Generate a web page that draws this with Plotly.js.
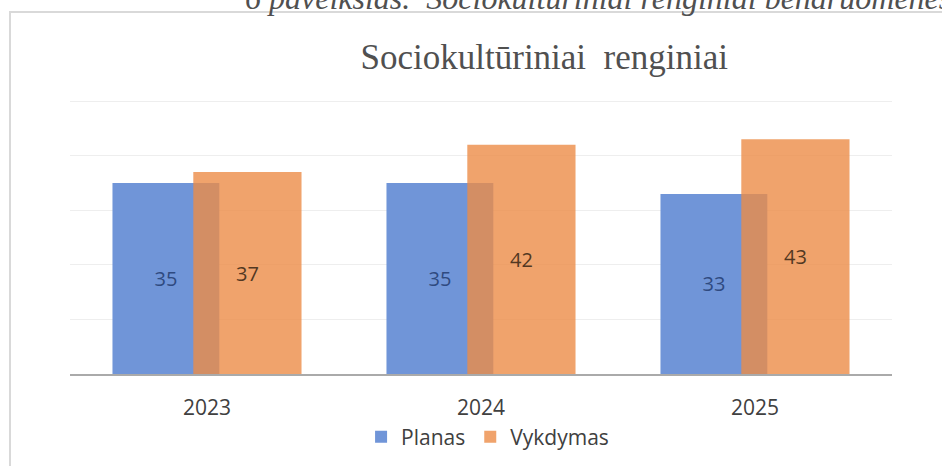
<!DOCTYPE html>
<html>
<head>
<meta charset="utf-8">
<script src="https://cdn.plot.ly/plotly-3.0.1.min.js"></script>
<style>html,body{margin:0;padding:0;background:#fff;}#chart{width:942px;height:466px;}</style>
</head>
<body>
<div id="chart"></div>
<script>
const years = ['2023', '2024', '2025'];
const planas = [35, 35, 33];
const vykdymas = [37, 42, 43];
const seriesNames = ['Planas', 'Vykdymas'];
const chartTitle = 'Sociokultūriniai\u00a0 renginiai';
const caption = '6 paveikslas.\u00a0 Sociokultūriniai renginiai bendruomenės';

const labelFont = 'Open Sans, Liberation Sans, sans-serif';

const traces = [
  {
    type: 'bar', name: seriesNames[0], x: years, y: planas,
    offset: -0.345, width: 0.39,
    marker: {color: '#7095d8'},
    text: planas.map(String), textposition: 'inside', insidetextanchor: 'middle',
    textangle: 0, constraintext: 'none',
    textfont: {family: labelFont, size: 20, color: '#2f4a80'},
    hoverinfo: 'none'
  },
  {
    type: 'bar', name: seriesNames[1], x: years, y: vykdymas,
    offset: -0.05, width: 0.395,
    marker: {color: 'rgba(236,140,71,0.8)'},
    text: vykdymas.map(String), textposition: 'inside', insidetextanchor: 'middle',
    textangle: 0, constraintext: 'none',
    textfont: {family: labelFont, size: 20, color: '#523822'},
    hoverinfo: 'none'
  }
];

const layout = {
  width: 942, height: 466,
  margin: {l: 70, r: 50, t: 100, b: 92, autoexpand: false},
  paper_bgcolor: '#ffffff', plot_bgcolor: '#ffffff',
  barmode: 'overlay',
  showlegend: true,
  title: {
    text: chartTitle,
    font: {family: 'Liberation Serif, serif', size: 35, color: '#505050'},
    xref: 'paper', x: 0.577, xanchor: 'center',
    yref: 'container', y: 0.878, yanchor: 'middle'
  },
  xaxis: {
    type: 'category', range: [-0.5, 2.5],
    showline: true, linecolor: '#aaaaaa', linewidth: 2,
    ticks: '', showgrid: false, zeroline: false,
    ticklabelstandoff: 14,
    tickfont: {family: labelFont, size: 21, color: '#404040'}
  },
  yaxis: {
    range: [0, 50.2], dtick: 10, showticklabels: false,
    showgrid: true, gridcolor: '#eeeeee', gridwidth: 1,
    zeroline: false, showline: false, ticks: ''
  },
  legend: {
    orientation: 'h', xref: 'paper', x: 0.508, xanchor: 'center',
    yref: 'container', y: 0.062, yanchor: 'middle',
    font: {family: labelFont, size: 21, color: '#404040'},
    itemwidth: 30, traceorder: 'normal'
  },
  shapes: [
    {type: 'rect', xref: 'paper', yref: 'paper',
     x0: -0.073, x1: 1.2, y0: -0.6, y1: 1.321,
     line: {color: '#d9d9d9', width: 2}, fillcolor: 'rgba(0,0,0,0)', layer: 'below'}
  ],
  annotations: [
    {text: caption, xref: 'paper', yref: 'paper',
     x: 0.21, xanchor: 'left', y: 1.371, yanchor: 'middle',
     showarrow: false,
     font: {family: 'Liberation Serif, serif', size: 32, color: '#505050', style: 'italic'}}
  ]
};

Plotly.newPlot('chart', traces, layout, {staticPlot: true, displayModeBar: false});
</script>
</body>
</html>
